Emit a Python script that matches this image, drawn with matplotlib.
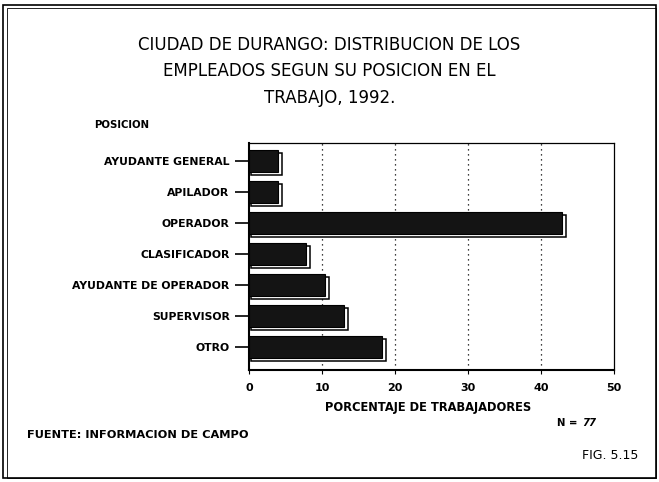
import numpy as np
import matplotlib.pyplot as plt
from matplotlib.patches import Rectangle

# posicion en el trabajo, de arriba hacia abajo
posiciones = ['AYUDANTE GENERAL', 'APILADOR', 'OPERADOR', 'CLASIFICADOR',
              'AYUDANTE DE OPERADOR', 'SUPERVISOR', 'OTRO']
porcentajes = [3.9, 3.9, 42.9, 7.8, 10.4, 13.0, 18.2]
x_ticks = [0, 10, 20, 30, 40, 50]
n_total = 77

titulo = ['CIUDAD DE DURANGO: DISTRIBUCION DE LOS',
          'EMPLEADOS SEGUN SU POSICION EN EL',
          'TRABAJO, 1992.']

plt.rcParams['font.family'] = ['DejaVu Sans']

fig = plt.figure(figsize=(6.59, 4.82), dpi=100)
ax = fig.add_axes([0.378, 0.232, 0.554, 0.471])

y = np.arange(len(posiciones))[::-1]
h = 0.72

# sombra blanca detras de cada barra
ax.barh(y - 0.1, np.array(porcentajes) + 0.25, left=0.3, height=h,
        color='white', edgecolor='black', linewidth=1.1, zorder=2)
ax.barh(y, porcentajes, height=h, color='#141414', edgecolor='black',
        linewidth=0.8, zorder=3)

ax.set_xlim(0, 50)
ax.set_ylim(-0.74, 6.58)
ax.set_xticks(x_ticks)
ax.set_xticklabels([str(t) for t in x_ticks], fontsize=8, fontweight='bold')
ax.set_yticks(y)
ax.set_yticklabels(posiciones, fontsize=7.8, fontweight='bold')
ax.tick_params(axis='y', length=10, width=1.2, pad=4)
ax.tick_params(axis='x', length=3, width=0.8, pad=6)

for t in x_ticks[1:-1]:
    ax.axvline(t, color='black', linestyle=(0, (1, 3)), linewidth=0.9, zorder=1)

for s in ax.spines.values():
    s.set_linewidth(0.9)
ax.spines['left'].set_linewidth(1.5)
ax.spines['bottom'].set_linewidth(1.5)

ax.set_xlabel('PORCENTAJE DE TRABAJADORES', fontsize=8.3, fontweight='bold')
ax.xaxis.set_label_coords(0.49, -0.135)

for i, linea in enumerate(titulo):
    fig.text(0.50, 0.907 - i * 0.055, linea, ha='center', va='center',
             fontsize=12)
fig.text(0.143, 0.740, 'POSICION', ha='left', va='center', fontsize=7.3,
         fontweight='bold')
fig.text(0.845, 0.122, 'N =', ha='left', va='center', fontsize=7.3,
         fontweight='bold')
fig.text(0.883, 0.122, str(n_total), ha='left', va='center', fontsize=7.3,
         fontweight='bold', style='italic')
fig.text(0.041, 0.097, 'FUENTE: INFORMACION DE CAMPO', ha='left',
         va='center', fontsize=8.2, fontweight='bold')
fig.text(0.883, 0.056, 'FIG. 5.15', ha='left', va='center', fontsize=9)

# marco doble alrededor de la figura
fig.patches.append(Rectangle((0.005, 0.008), 0.99, 0.982, transform=fig.transFigure,
                             fill=False, edgecolor='black', linewidth=1.2))
fig.patches.append(Rectangle((0.011, 0.008), 0.984, 0.975, transform=fig.transFigure,
                             fill=False, edgecolor='black', linewidth=0.6))

fig.savefig('out.png', dpi=100)
